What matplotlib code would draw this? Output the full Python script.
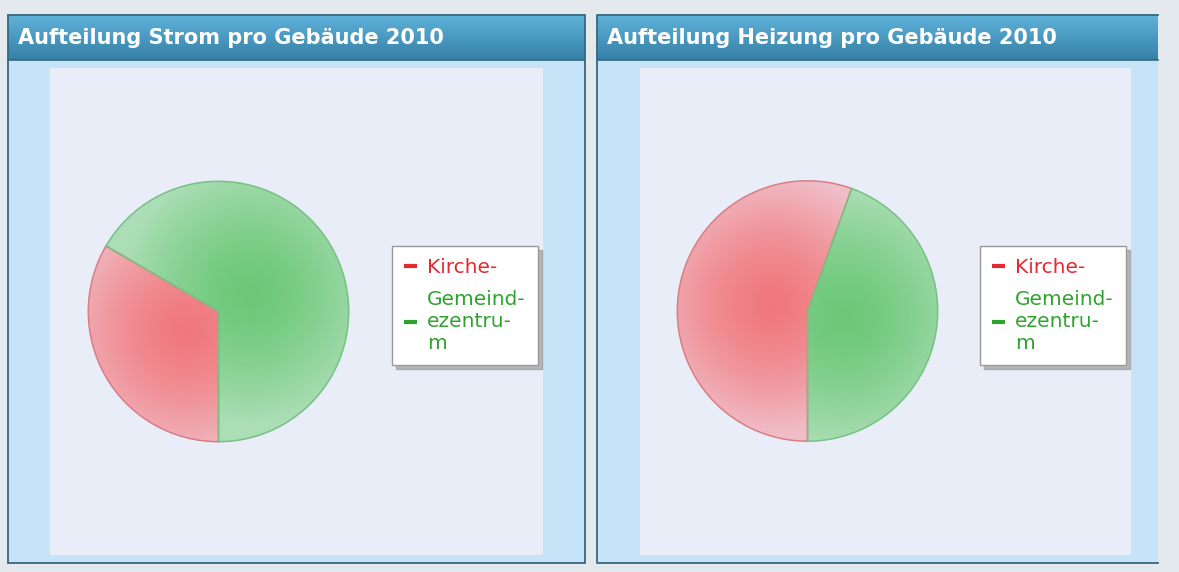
import numpy as np
import matplotlib.pyplot as plt
from matplotlib.patches import Rectangle
from matplotlib.lines import Line2D

W, H = 1179, 572

# chart data
titles = ["Aufteilung Strom pro Gebäude 2010", "Aufteilung Heizung pro Gebäude 2010"]
labels = ["Kirche-", "Gemeind-\nezentru-\nm"]
strom = [33.4, 66.6]
heizung = [55.5, 44.5]
values = [strom, heizung]

# styling
dark_cols = [np.array([240, 120, 124]) / 255, np.array([108, 200, 120]) / 255]
light_cols = [np.array([240, 190, 200]) / 255, np.array([172, 222, 182]) / 255]
edge_cols = ['#dc7c86', '#78c084']
legend_cols = ['#e42a30', '#2ea42e']

# panel layout in pixels: (x0, x1, inner x0, inner x1, has right border)
panels = [(8, 585, 50, 543, True), (597, 1158, 640, 1131, False)]
pie_centers = [(218.5, 311.5), (807.5, 311.0)]
pie_r = 131.5
legend_pos = [(392, 246), (980, 246)]

fig = plt.figure(figsize=(W / 100, H / 100), dpi=100)
fig.patch.set_facecolor('#e4e9ed')

bg = fig.add_axes([0, 0, 1, 1])
bg.axis('off')

top, head_bot, bottom = 15, 60, 563
border = '#35687e'
head_top = np.array([94, 178, 218]) / 255
head_bottom = np.array([54, 128, 166]) / 255
grad = np.linspace(0, 1, 60)[:, None, None]
head_img = head_top * (1 - grad) + head_bottom * grad
head_img = np.repeat(head_img, 2, axis=1)

for (x0, x1, ix0, ix1, rb), title in zip(panels, titles):
    bg.add_patch(Rectangle((x0, head_bot), x1 - x0, bottom - head_bot,
                           fc='#c6e3f8', ec='none'))
    bg.imshow(head_img, extent=(x0, x1, head_bot, top), aspect='auto',
              origin='upper', interpolation='bilinear')
    bg.add_patch(Rectangle((ix0, 68), ix1 - ix0, 555 - 68, fc='#e8edf8', ec='none'))
    bg.plot([x0, x1], [head_bot, head_bot], color='#2f6a86', lw=1.2)
    if rb:
        bg.add_patch(Rectangle((x0, top), x1 - x0, bottom - top, fill=False,
                               ec=border, lw=1.3))
    else:
        bg.plot([x1, x0, x0, x1], [top, top, bottom, bottom], color=border, lw=1.3)
    bg.text(x0 + 10, 38.5, title, color='white', fontsize=15,
            fontweight='bold', va='center', ha='left')

bg.set_xlim(0, W)
bg.set_ylim(H, 0)

# radial gradient grid for the slices
n = 400
gx, gy = np.meshgrid(np.linspace(-1, 1, n), np.linspace(-1, 1, n))

for vals, (cx, cy), (lx, ly) in zip(values, pie_centers, legend_pos):
    ax = fig.add_axes([(cx - pie_r) / W, 1 - (cy + pie_r) / H,
                       2 * pie_r / W, 2 * pie_r / H])
    wedges, _ = ax.pie(vals, startangle=270, counterclock=False,
                       wedgeprops={'linewidth': 1.1})
    for i, w in enumerate(wedges):
        mid = np.deg2rad((w.theta1 + w.theta2) / 2)
        gcx, gcy = 0.28 * np.cos(mid), 0.28 * np.sin(mid)
        d = np.hypot(gx - gcx, gy - gcy)
        t = np.clip(d / 1.0, 0, 1) ** 1.5
        img = dark_cols[i] * (1 - t[..., None]) + light_cols[i] * t[..., None]
        im = ax.imshow(img, extent=(-1, 1, -1, 1), origin='lower',
                       interpolation='bilinear', zorder=1)
        im.set_clip_path(w)
        w.set_facecolor('none')
        w.set_edgecolor(edge_cols[i])
        w.set_zorder(3)
    ax.set_xlim(-1.01, 1.01)
    ax.set_ylim(-1.01, 1.01)
    ax.axis('off')

    handles = [Line2D([], [], color=c, lw=3, solid_capstyle='butt')
               for c in legend_cols]
    leg = ax.legend(handles, labels, loc='upper left',
                    bbox_to_anchor=(lx / W, 1 - ly / H),
                    bbox_transform=fig.transFigure, borderaxespad=0,
                    fancybox=False, framealpha=1, facecolor='white',
                    edgecolor='#9a9a9a',
                    shadow={'ox': 3, 'oy': -3, 'color': '#8a8a8a', 'alpha': 0.55},
                    fontsize=14.5, handlelength=0.65, handletextpad=0.5,
                    borderpad=0.6, labelspacing=0.65)
    for txt, c in zip(leg.get_texts(), legend_cols):
        txt.set_color(c)

fig.savefig('out.png', dpi=100)
